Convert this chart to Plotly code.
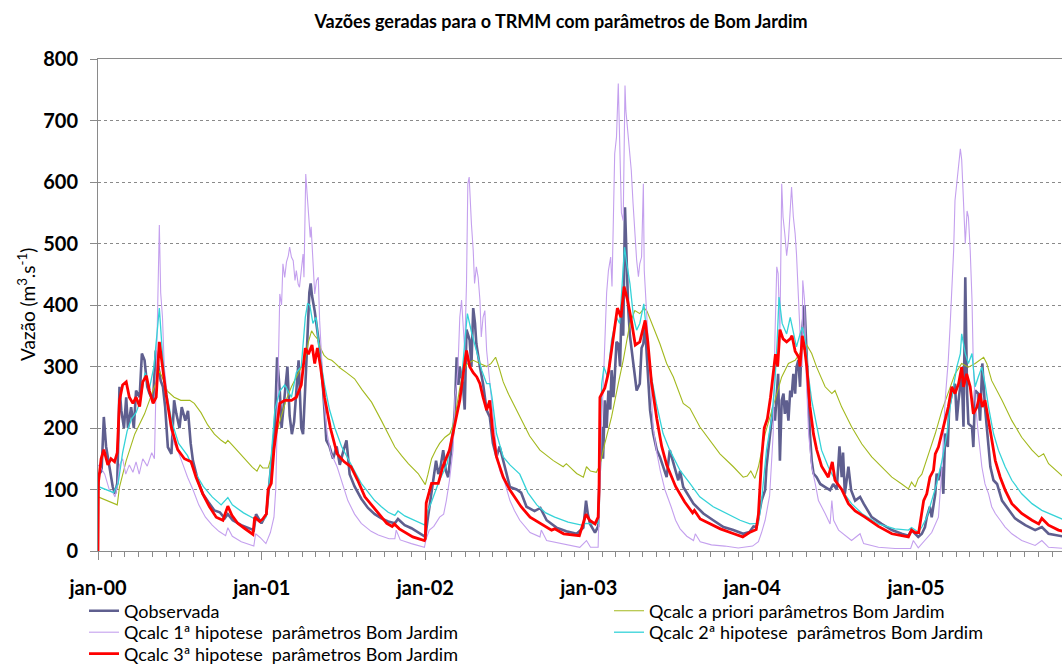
import pandas as pd
import plotly.graph_objects as go

BASE = "2000-01-01"

# ---------------- data (day offsets from 2000-01-01, discharge m3/s) ----------------
obs_day = [0, 2, 8, 13, 18, 26, 33, 38, 43, 48, 52, 58, 63, 67, 74, 80, 85, 93, 98, 104, 110, 115, 123, 129, 134, 140, 145, 150, 156, 164, 170, 175, 182, 187, 195, 201, 207, 212, 223, 234, 246, 260, 272, 283, 290, 301, 320, 339, 348, 353, 361,
           365, 376, 384, 388, 395, 400, 406, 410, 417, 423, 428, 433, 438, 443, 448, 454, 458, 465, 472, 475, 478, 484, 490, 495, 503, 510, 517, 525, 533, 540, 547, 555, 562, 573, 588, 603, 618, 633, 648, 663, 670, 685, 700, 715, 729,
           731, 737, 748, 755, 760, 765, 771, 777, 782, 788, 793, 797, 801, 805, 808, 815, 819, 823, 830, 834, 838, 842, 845, 853, 860, 868, 875, 882, 890, 897, 905, 912, 920, 935, 945, 957, 975, 988, 1002, 1024, 1046, 1069, 1084, 1090, 1094, 1099, 1110, 1117,
           1120, 1125, 1128, 1132, 1136, 1140, 1144, 1147, 1151, 1154, 1158, 1162, 1166, 1169, 1173, 1177, 1180, 1184, 1188, 1192, 1199, 1203, 1210, 1214, 1218, 1222, 1225, 1229, 1233, 1240, 1248, 1255, 1262, 1270, 1277, 1285, 1296, 1300, 1307, 1330, 1352, 1374, 1397, 1419, 1441, 1455, 1464,
           1471, 1475, 1482, 1490, 1493, 1497, 1501, 1505, 1508, 1512, 1516, 1519, 1523, 1527, 1531, 1534, 1538, 1542, 1546, 1549, 1553, 1557, 1560, 1564, 1568, 1572, 1578, 1583, 1586, 1590, 1594, 1598, 1605, 1613, 1624, 1635, 1642, 1650, 1656, 1661, 1664, 1668, 1676, 1682, 1691, 1702, 1710, 1728, 1750, 1773, 1795, 1810, 1817, 1832,
           1840, 1847, 1851, 1858, 1862, 1870, 1873, 1877, 1884, 1888, 1892, 1898, 1901, 1907, 1914, 1918, 1922, 1929, 1933, 1937, 1941, 1944, 1952, 1955, 1959, 1966, 1970, 1975, 1981, 1989, 1993, 2000, 2008, 2019, 2034, 2048, 2071, 2093, 2108, 2123, 2160]
obs_q = [100, 125, 130, 218, 170, 137, 104, 93, 110, 267, 229, 200, 250, 200, 234, 200, 261, 250, 321, 310, 267, 256, 245, 326, 300, 277, 267, 234, 169, 158, 245, 223, 200, 234, 212, 228, 175, 147, 115, 93, 80, 66, 63, 53, 60, 50, 42, 36, 34, 60, 50,
         45, 60, 120, 150, 200, 315, 260, 200, 250, 300, 220, 190, 210, 260, 310, 200, 190, 300, 420, 435, 415, 390, 360, 330, 260, 180, 170, 150, 170, 140, 160, 180, 125, 105, 85, 70, 60, 53, 48, 45, 52, 42, 37, 30, 24,
         23, 55, 110, 147, 125, 137, 164, 130, 120, 160, 191, 229, 315, 270, 299, 272, 230, 360, 343, 300, 395, 370, 337, 299, 272, 229, 218, 175, 153, 170, 147, 126, 104, 100, 95, 72, 65, 70, 50, 38, 32, 28, 38, 82, 60, 44, 30, 40,
         120, 202, 150, 245, 200, 261, 230, 294, 250, 283, 340, 337, 300, 391, 350, 559, 489, 397, 350, 326, 294, 261, 272, 330, 337, 370, 326, 280, 229, 191, 164, 153, 137, 120, 164, 142, 115, 130, 104, 77, 61, 50, 39, 34, 28, 31, 40,
         39, 55, 82, 99, 137, 164, 191, 207, 234, 212, 250, 288, 147, 245, 256, 223, 245, 212, 261, 250, 288, 256, 299, 310, 267, 353, 400, 310, 245, 191, 147, 126, 120, 109, 104, 99, 109, 100, 170, 120, 160, 93, 137, 99, 82, 88, 77, 55, 44, 34, 28, 25, 34, 23,
         28, 39, 55, 72, 55, 93, 126, 115, 137, 93, 191, 169, 234, 256, 272, 212, 245, 288, 202, 445, 256, 207, 202, 169, 261, 256, 212, 305, 234, 164, 137, 115, 109, 82, 66, 53, 42, 34, 39, 28, 23]

priori_day = [0, 20, 37, 43, 48, 63, 82, 104, 126, 137, 145, 155, 170, 185, 205, 215, 230, 245, 260, 275, 285, 290, 300, 315, 330, 345, 355, 362, 368,
              380, 390, 400, 409, 420, 432, 445, 455, 462, 470, 477, 484, 490, 497, 505, 514, 522, 530, 540, 555, 573, 590, 611, 633, 648, 663, 678, 693, 715,
              731, 737, 745, 755, 763, 775, 786, 793, 800, 808, 815, 823, 838, 853, 868, 878, 888, 895, 905, 917, 927, 942, 964, 987, 1017, 1039, 1046, 1069, 1084, 1091, 1100, 1113,
              1121, 1132, 1147, 1162, 1173, 1188, 1199, 1210, 1220, 1226, 1240, 1255, 1270, 1285, 1307, 1315, 1322, 1344, 1367, 1389, 1419, 1441, 1450, 1458,
              1467, 1475, 1490, 1501, 1512, 1527, 1542, 1557, 1572, 1583, 1594, 1605, 1624, 1639, 1646, 1661, 1683, 1706, 1728, 1750, 1773, 1795, 1810, 1817, 1825, 1832,
              1840, 1855, 1870, 1885, 1899, 1914, 1929, 1944, 1959, 1970, 1978, 1985, 1996, 2019, 2041, 2063, 2086, 2101, 2112, 2123, 2160]
priori_q = [88, 82, 77, 75, 104, 147, 190, 223, 267, 293, 280, 260, 250, 245, 245, 240, 225, 205, 190, 180, 175, 180, 172, 160, 148, 136, 130, 140, 135,
            135, 160, 195, 218, 245, 267, 285, 300, 310, 340, 358, 350, 345, 330, 318, 312, 310, 305, 298, 290, 280, 262, 242, 212, 190, 169, 155, 142, 126,
            108, 125, 150, 165, 175, 185, 191, 205, 230, 265, 290, 303, 310, 305, 300, 305, 315, 300, 275, 255, 240, 218, 187, 164, 147, 137, 142, 126, 120, 137, 130, 128,
            140, 175, 218, 272, 310, 370, 391, 386, 395, 390, 364, 337, 305, 283, 240, 235, 232, 202, 180, 158, 137, 120, 122, 130,
            118, 137, 191, 218, 245, 283, 305, 310, 326, 335, 321, 299, 267, 256, 261, 234, 202, 174, 153, 137, 120, 109, 101, 112, 104, 118,
            125, 158, 191, 229, 256, 288, 305, 299, 305, 310, 315, 305, 277, 245, 212, 185, 164, 153, 158, 142, 118]

hip1_day = [0, 7, 15, 25, 33, 38, 43, 48, 55, 62, 70, 78, 85, 92, 100, 110, 120, 126, 130, 134, 137, 140, 144, 148, 155, 162, 170, 180, 190, 200, 212, 225, 240, 255, 270, 285, 290, 300, 320, 340, 348, 352, 362,
            375, 385, 393, 397, 400, 403, 406, 410, 413, 417, 421, 425, 428, 432, 436, 440, 443, 447, 450, 454, 458, 460, 462, 464, 467, 471, 474, 476, 479, 482, 484, 488, 492, 495, 499, 505, 512, 520, 534, 545, 558, 573, 588, 610, 626, 650, 663, 666, 675, 700, 729,
            733, 740, 750, 763, 772, 778, 785, 789, 793, 797, 801, 804, 808, 812, 815, 819, 823, 826, 829, 832, 834, 838, 841, 845, 849, 853, 856, 860, 864, 868, 875, 882, 890, 897, 909, 920, 930, 942, 965, 987, 990, 1002, 1039, 1076, 1091, 1100, 1117,
            1120, 1124, 1128, 1132, 1136, 1140, 1145, 1148, 1151, 1154, 1158, 1160, 1162, 1164, 1167, 1169, 1173, 1175, 1177, 1179, 1182, 1185, 1188, 1191, 1195, 1199, 1203, 1207, 1210, 1214, 1218, 1220, 1223, 1227, 1232, 1240, 1248, 1256, 1266, 1280, 1290, 1300, 1315, 1330, 1334, 1345, 1370, 1400, 1430, 1462,
            1475, 1482, 1490, 1500, 1505, 1508, 1512, 1516, 1519, 1523, 1527, 1530, 1534, 1538, 1542, 1546, 1549, 1553, 1557, 1560, 1564, 1568, 1572, 1574, 1578, 1581, 1587, 1594, 1602, 1609, 1624, 1635, 1639, 1643, 1654, 1683, 1702, 1710, 1743, 1780, 1815, 1821, 1832,
            1847, 1862, 1877, 1885, 1892, 1899, 1903, 1907, 1911, 1914, 1918, 1922, 1926, 1929, 1933, 1937, 1941, 1944, 1948, 1952, 1955, 1959, 1966, 1974, 1981, 1989, 1996, 2004, 2015, 2026, 2041, 2063, 2093, 2108, 2123, 2160]
hip1_q = [140, 135, 125, 100, 95, 88, 105, 140, 150, 125, 140, 128, 145, 125, 150, 138, 160, 150, 280, 440, 530, 420, 380, 300, 250, 200, 175, 160, 140, 120, 100, 75, 55, 42, 32, 25, 38, 24, 15, 10, 8, 28, 22,
          12, 30, 55, 100, 200, 330, 418, 400, 467, 445, 470, 480, 494, 478, 472, 440, 456, 434, 429, 456, 483, 445, 527, 613, 581, 538, 510, 527, 483, 429, 418, 440, 445, 375, 310, 240, 190, 160, 137, 110, 82, 60, 45, 32, 26, 20, 20, 34, 18, 12, 6,
          20, 34, 40, 55, 60, 82, 115, 137, 164, 250, 272, 299, 380, 408, 370, 326, 435, 597, 608, 543, 532, 489, 435, 462, 445, 408, 348, 380, 391, 326, 272, 218, 164, 131, 110, 82, 66, 50, 30, 23, 34, 17, 12, 6, 17, 6, 6,
          100, 200, 260, 330, 420, 456, 478, 430, 565, 646, 673, 711, 760, 700, 619, 550, 537, 673, 757, 716, 689, 673, 646, 619, 565, 510, 473, 446, 467, 478, 597, 456, 413, 375, 300, 200, 160, 130, 100, 72, 50, 36, 24, 17, 28, 15, 10, 8, 5, 8,
          15, 30, 50, 90, 150, 191, 350, 462, 451, 353, 597, 543, 515, 480, 505, 559, 592, 543, 516, 483, 408, 353, 299, 440, 408, 299, 191, 137, 109, 82, 61, 44, 82, 50, 34, 17, 28, 12, 6, 4, 4, 17, 5,
          17, 30, 55, 137, 245, 310, 364, 429, 489, 570, 597, 624, 654, 636, 570, 500, 553, 543, 489, 408, 299, 245, 191, 137, 109, 93, 72, 61, 50, 39, 28, 17, 9, 17, 6, 4]

hip2_day = [0, 20, 35, 45, 55, 65, 75, 85, 95, 105, 115, 125, 137, 143, 150, 165, 180, 200, 215, 235, 255, 275, 290, 300, 325, 345, 355, 365,
            375, 380, 388, 395, 406, 417, 432, 443, 454, 463, 468, 473, 480, 487, 495, 506, 517, 529, 544, 558, 573, 588, 603, 618, 633, 648, 663, 670, 685, 707, 730,
            737, 745, 760, 780, 793, 808, 818, 825, 835, 845, 857, 868, 875, 880, 890, 905, 920, 942, 960, 980, 1000, 1020, 1050, 1080, 1090, 1105, 1117,
            1121, 1125, 1130, 1138, 1147, 1158, 1165, 1172, 1176, 1181, 1188, 1196, 1203, 1210, 1219, 1229, 1236, 1247, 1262, 1277, 1300, 1322, 1344, 1374, 1404, 1434, 1456, 1470,
            1475, 1482, 1493, 1505, 1512, 1517, 1521, 1528, 1538, 1546, 1553, 1560, 1568, 1573, 1580, 1587, 1594, 1605, 1616, 1631, 1646, 1661, 1683, 1706, 1743, 1780, 1810, 1817, 1832,
            1840, 1851, 1862, 1873, 1885, 1896, 1903, 1911, 1918, 1926, 1929, 1937, 1944, 1952, 1959, 1966, 1974, 1981, 1989, 2000, 2011, 2026, 2041, 2063, 2086, 2108, 2123, 2160]
hip2_q = [105, 100, 95, 110, 160, 195, 215, 225, 245, 290, 265, 300, 395, 330, 270, 210, 175, 155, 130, 105, 88, 75, 87, 75, 62, 54, 50, 48,
          55, 90, 170, 230, 260, 270, 250, 290, 300, 380, 402, 400, 370, 380, 320, 270, 230, 200, 170, 150, 130, 110, 95, 82, 72, 63, 58, 65, 57, 50, 42,
          66, 80, 110, 142, 202, 245, 330, 386, 353, 326, 294, 272, 272, 250, 191, 153, 140, 125, 95, 75, 62, 55, 47, 42, 45, 44, 45,
          180, 272, 299, 283, 343, 380, 370, 460, 494, 467, 435, 380, 359, 370, 402, 326, 283, 240, 191, 164, 131, 110, 88, 72, 61, 50, 44, 45,
          45, 82, 164, 218, 277, 343, 413, 370, 353, 380, 353, 332, 353, 364, 343, 283, 245, 202, 164, 137, 115, 99, 77, 61, 44, 36, 34, 38, 31,
          39, 55, 82, 109, 147, 191, 234, 267, 299, 321, 353, 321, 305, 321, 267, 283, 299, 272, 234, 191, 164, 137, 115, 93, 77, 66, 61, 50]

hip3_day = [0, 1, 7, 13, 22, 29, 37, 43, 48, 55, 63, 70, 78, 85, 93, 100, 108, 115, 123, 130, 137, 145, 152, 164, 178, 193, 208, 219, 234, 249, 264, 279, 290, 299, 312, 327, 346, 350, 361, 368,
            376, 380, 387, 393, 398, 406, 417, 432, 443, 454, 463, 470, 478, 484, 490, 497, 506, 519, 534, 550, 565, 580, 596, 626, 645, 657, 662, 673, 703, 729,
            731, 733, 745, 760, 770, 785, 793, 800, 808, 816, 823, 830, 838, 846, 853, 860, 868, 875, 882, 890, 905, 920, 945, 965, 990, 1013, 1020, 1040, 1075, 1090, 1098, 1110, 1117,
            1119, 1121, 1132, 1140, 1150, 1160, 1168, 1175, 1182, 1190, 1200, 1210, 1222, 1228, 1236, 1248, 1259, 1270, 1290, 1310, 1328, 1332, 1345, 1365, 1390, 1420, 1440, 1455, 1470,
            1475, 1478, 1482, 1488, 1495, 1502, 1508, 1513, 1518, 1523, 1530, 1538, 1546, 1550, 1557, 1565, 1568, 1573, 1578, 1583, 1590, 1598, 1605, 1616, 1631, 1640, 1646, 1661, 1676, 1691, 1713, 1743, 1773, 1795, 1810, 1817, 1825, 1833,
            1840, 1844, 1851, 1858, 1866, 1870, 1877, 1885, 1892, 1899, 1907, 1914, 1922, 1929, 1933, 1940, 1948, 1955, 1963, 1970, 1975, 1981, 1989, 1996, 2004, 2015, 2026, 2041, 2063, 2086, 2101, 2108, 2123, 2145, 2160]
hip3_q = [0, 112, 150, 165, 140, 150, 145, 160, 245, 270, 275, 250, 240, 250, 235, 275, 285, 260, 240, 250, 340, 295, 255, 200, 165, 150, 145, 120, 93, 72, 55, 50, 73, 58, 45, 37, 27, 55, 48, 52,
          60, 100, 110, 165, 195, 240, 245, 245, 250, 270, 330, 320, 335, 305, 330, 300, 250, 200, 158, 145, 137, 115, 88, 61, 45, 40, 44, 36, 23, 17,
          20, 78, 110, 110, 137, 164, 191, 218, 245, 290, 326, 300, 290, 283, 272, 250, 229, 245, 191, 153, 120, 99, 72, 55, 44, 34, 36, 28, 25, 60, 50, 44, 55,
          100, 250, 265, 290, 340, 395, 380, 430, 410, 380, 335, 340, 375, 340, 275, 215, 170, 140, 105, 80, 62, 66, 52, 45, 36, 28, 23, 30, 35,
          60, 100, 150, 200, 215, 250, 290, 320, 300, 360, 345, 340, 345, 350, 325, 315, 300, 350, 330, 300, 235, 190, 165, 138, 120, 145, 115, 100, 77, 65, 55, 40, 28, 25, 23, 34, 30, 30,
          61, 82, 93, 120, 131, 158, 169, 191, 212, 234, 267, 256, 272, 299, 267, 288, 267, 223, 234, 256, 234, 245, 212, 180, 147, 120, 99, 77, 61, 50, 44, 53, 42, 34, 31]

tick_dates = ["2000-01-01", "2001-01-01", "2002-01-01", "2003-01-01", "2004-01-01", "2005-01-01"]
tick_text = ["jan-00", "jan-01", "jan-02", "jan-03", "jan-04", "jan-05"]

series = [
    ("Qobservada", obs_day, obs_q, "#5f5f8f", 2.6, "legend"),
    ("Qcalc a priori parâmetros Bom Jardim", priori_day, priori_q, "#a3b91e", 1.1, "legend2"),
    ("Qcalc 1ª hipotese \u00a0parâmetros Bom Jardim", hip1_day, hip1_q, "#c4a0ee", 1.1, "legend3"),
    ("Qcalc 2ª hipotese \u00a0parâmetros Bom Jardim", hip2_day, hip2_q, "#35d3d8", 1.3, "legend4"),
    ("Qcalc 3ª hipotese \u00a0parâmetros Bom Jardim", hip3_day, hip3_q, "#ff0000", 2.8, "legend5"),
]

base = pd.Timestamp(BASE)
fig = go.Figure()
for name, days, q, color, width, leg in series:
    dates = [(base + pd.Timedelta(days=int(d))).strftime("%Y-%m-%d") for d in days]
    fig.add_trace(go.Scatter(x=dates, y=q, mode="lines", name=name,
                             line=dict(color=color, width=width), legend=leg))

W, H = 1062, 665
grid = "#8a8a8a"
font = "Lato, 'Open Sans', sans-serif"

def leg(xpx, ypx):
    return dict(x=xpx / W, y=1 - ypx / H, xref="container", yref="container",
                xanchor="left", yanchor="middle", bgcolor="rgba(0,0,0,0)",
                font=dict(family=font, size=18, color="black"), itemwidth=30,
                orientation="v")

fig.update_layout(
    width=W, height=H,
    margin=dict(l=98, r=0, t=59, b=114, autoexpand=False),
    paper_bgcolor="white", plot_bgcolor="white",
    font=dict(family=font, color="black"),
    title=dict(text="Vazões geradas para o TRMM com parâmetros de Bom Jardim",
               x=561 / W, xref="container", xanchor="center",
               y=1 - 22 / H, yref="container", yanchor="middle",
               font=dict(family=font, size=18, weight="bold", color="black")),
    showlegend=True,
    legend=leg(84, 611), legend2=leg(609, 611), legend3=leg(84, 632.5),
    legend4=leg(609, 632.5), legend5=leg(84, 654),
    xaxis=dict(type="date", range=["2000-01-01", "2005-11-23"],
               tickmode="array", tickvals=tick_dates, ticktext=tick_text,
               ticks="outside", ticklen=8, tickcolor=grid, tickwidth=1,
               showline=True, linecolor=grid, linewidth=1, mirror=True,
               showgrid=False, zeroline=False,
               tickfont=dict(family=font, size=20, weight="bold", color="black"),
               ticklabelstandoff=11,
               minor=dict(dtick="M1", tick0="2000-01-01", ticks="outside",
                          ticklen=5, tickcolor=grid, showgrid=False)),
    yaxis=dict(range=[0, 800], dtick=100, tick0=0,
               ticks="outside", ticklen=7, tickcolor=grid,
               showline=True, linecolor=grid, linewidth=1,
               showgrid=True, gridcolor=grid, gridwidth=1, griddash="3px,3px",
               zeroline=False,
               tickfont=dict(family=font, size=20, weight="bold", color="black"),
               ticklabelstandoff=8),
)

# y-axis title (placed as rotated text left of the tick labels)
fig.add_annotation(text="Vazão (m<sup>3</sup>.s<sup>-1</sup>)", textangle=-90,
                   xref="paper", x=(26 - 98) / (W - 98), xanchor="center",
                   yref="paper", y=0.5, yanchor="middle", showarrow=False,
                   font=dict(family=font, size=19, color="black"))

fig.write_html("out.html", config={"displayModeBar": False},
               post_script="document.body.style.margin='0';document.body.style.overflow='hidden';")
